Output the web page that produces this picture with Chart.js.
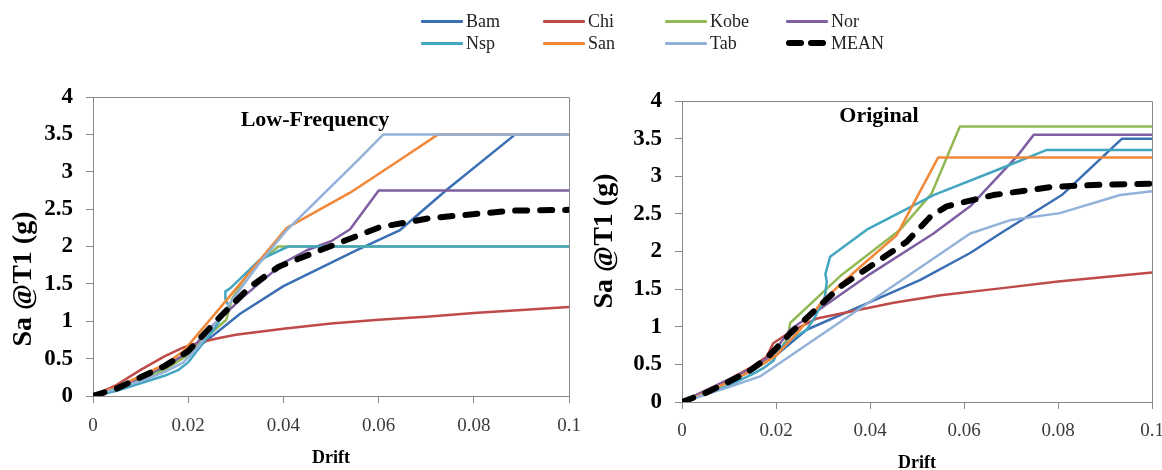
<!DOCTYPE html>
<html>
<head>
<meta charset="utf-8">
<script src="https://cdn.jsdelivr.net/npm/chart.js@4.4.1/dist/chart.umd.min.js"></script>
<style>
  html, body { margin: 0; padding: 0; background: #fff; }
  body { width: 1162px; height: 470px; position: relative; overflow: hidden; font-family: 'Liberation Serif', 'Times New Roman', serif; }
  #left { position: absolute; left: 0; top: 0; }
  #right { position: absolute; left: 585px; top: 0; }
  .lg { position: absolute; height: 20px; display: flex; align-items: center; font-size: 18px; color: #222; z-index: 5; }
  .lg .ln { width: 42px; height: 3px; margin-right: 3px; border-radius: 1px; }
  .lg .dsh { width: 18px; height: 6px; border-radius: 3px; background: #000; margin-right: 4px; }
</style>
</head>
<body>
<canvas id="left" width="593" height="470"></canvas>
<canvas id="right" width="590" height="474"></canvas>
<div id="legend"></div>
<script>
// ---------------- data ----------------
const SERIES_NAMES = ['Bam', 'Chi', 'Kobe', 'Nor', 'Nsp', 'San', 'Tab', 'MEAN'];
const X_TICK_LABELS = ['0', '0.02', '0.04', '0.06', '0.08', '0.1'];
const Y_TICK_LABELS = ['0', '0.5', '1', '1.5', '2', '2.5', '3', '3.5', '4'];

// Low-Frequency panel: [drift, Sa@T1]
const LF_BAM  = [[0,0],[0.005,0.12],[0.01,0.25],[0.015,0.38],[0.02,0.55],[0.026,0.85],[0.0309,1.1],[0.04,1.47],[0.0554,1.95],[0.0645,2.22],[0.0743,2.76],[0.0887,3.5],[0.1,3.5]];
const LF_CHI  = [[0,0],[0.005,0.15],[0.01,0.35],[0.015,0.53],[0.019,0.65],[0.022,0.71],[0.026,0.77],[0.03,0.82],[0.04,0.9],[0.05,0.97],[0.06,1.02],[0.07,1.06],[0.08,1.11],[0.09,1.15],[0.1,1.19]];
const LF_KOBE = [[0,0],[0.005,0.1],[0.01,0.22],[0.015,0.35],[0.02,0.55],[0.024,0.8],[0.028,1.02],[0.0292,1.3],[0.033,1.69],[0.0389,2.0],[0.1,2.0]];
const LF_NOR  = [[0,0],[0.005,0.11],[0.01,0.25],[0.015,0.4],[0.02,0.58],[0.0246,0.91],[0.0316,1.33],[0.04,1.78],[0.0449,1.95],[0.05,2.07],[0.054,2.23],[0.06,2.75],[0.1,2.75]];
const LF_NSP  = [[0,0],[0.005,0.07],[0.01,0.17],[0.015,0.27],[0.018,0.35],[0.02,0.45],[0.023,0.7],[0.0255,0.9],[0.0285,1.2],[0.0278,1.3],[0.0278,1.4],[0.0288,1.44],[0.035,1.82],[0.041,2.0],[0.1,2.0]];
const LF_SAN  = [[0,0],[0.005,0.12],[0.01,0.27],[0.015,0.42],[0.019,0.6],[0.028,1.28],[0.0407,2.25],[0.054,2.72],[0.0645,3.16],[0.0725,3.5],[0.1,3.5]];
const LF_TAB  = [[0,0],[0.005,0.1],[0.01,0.2],[0.015,0.32],[0.019,0.45],[0.022,0.65],[0.026,1.0],[0.03,1.35],[0.035,1.78],[0.0407,2.22],[0.0557,3.16],[0.061,3.5],[0.1,3.5]];
const LF_MEAN = [[0,0],[0.005,0.1],[0.01,0.25],[0.015,0.4],[0.02,0.6],[0.0267,1.06],[0.033,1.46],[0.039,1.73],[0.0477,1.95],[0.0603,2.26],[0.0708,2.38],[0.0813,2.44],[0.0882,2.48],[0.1,2.49]];

// Original panel: [drift, Sa@T1]
const OR_BAM  = [[0,0],[0.005,0.12],[0.01,0.27],[0.015,0.42],[0.02,0.62],[0.0265,0.96],[0.0379,1.27],[0.0506,1.62],[0.0613,1.98],[0.0677,2.24],[0.0808,2.75],[0.0936,3.5],[0.1,3.5]];
const OR_CHI  = [[0,0],[0.005,0.15],[0.01,0.3],[0.015,0.47],[0.018,0.6],[0.0194,0.78],[0.023,0.93],[0.0287,1.11],[0.0372,1.22],[0.045,1.32],[0.055,1.42],[0.0677,1.51],[0.08,1.6],[0.09,1.66],[0.1,1.72]];
const OR_KOBE = [[0,0],[0.005,0.12],[0.01,0.27],[0.015,0.42],[0.02,0.62],[0.0225,0.85],[0.023,1.05],[0.0336,1.67],[0.0464,2.29],[0.0531,2.77],[0.0591,3.66],[0.1,3.66]];
const OR_NOR  = [[0,0],[0.005,0.15],[0.01,0.3],[0.015,0.45],[0.019,0.62],[0.023,0.96],[0.0301,1.27],[0.04,1.7],[0.0535,2.24],[0.0613,2.6],[0.0712,3.26],[0.0748,3.55],[0.1,3.55]];
const OR_NSP  = [[0,0],[0.005,0.1],[0.01,0.22],[0.015,0.37],[0.0173,0.45],[0.0195,0.55],[0.0205,0.7],[0.0225,0.8],[0.0265,0.96],[0.0283,1.13],[0.0304,1.4],[0.0308,1.6],[0.0305,1.7],[0.0315,1.93],[0.0393,2.29],[0.0535,2.75],[0.0677,3.1],[0.0776,3.35],[0.1,3.35]];
const OR_SAN  = [[0,0],[0.005,0.12],[0.01,0.27],[0.015,0.42],[0.02,0.62],[0.025,0.95],[0.0301,1.36],[0.038,1.8],[0.0457,2.22],[0.0545,3.25],[0.1,3.25]];
const OR_TAB  = [[0,0],[0.005,0.1],[0.01,0.2],[0.0166,0.34],[0.0613,2.24],[0.07,2.42],[0.0804,2.51],[0.0932,2.75],[0.1,2.8]];
const OR_MEAN = [[0,0],[0.005,0.12],[0.01,0.27],[0.0145,0.42],[0.018,0.58],[0.023,0.91],[0.0336,1.53],[0.0478,2.13],[0.0528,2.46],[0.0563,2.6],[0.0662,2.75],[0.079,2.86],[0.09,2.89],[0.1,2.9]];

const COLORS = ['#3B6FB4', '#BE4B48', '#93B956', '#7E5FA1', '#43A6C0', '#F0883A', '#93B2DA', '#000000'];

// ---------------- helpers ----------------
const FONT = "'Liberation Serif', 'Times New Roman', serif";
const AXIS_GRAY = '#8a8a8a';

function buildDatasets(list) {
  return list.map((pts, i) => {
    const isMean = SERIES_NAMES[i] === 'MEAN';
    return {
      label: SERIES_NAMES[i],
      data: pts.map(p => ({ x: p[0], y: p[1] })),
      borderColor: COLORS[i],
      backgroundColor: COLORS[i],
      borderWidth: isMean ? 6 : 2.5,
      borderDash: isMean ? [12, 13] : [],
      borderCapStyle: isMean ? 'round' : 'butt',
      borderJoinStyle: 'round',
      pointRadius: 0,
      tension: 0,
      fill: false,
      order: isMean ? 0 : (list.length - i)
    };
  });
}

const boxPlugin = {
  id: 'boxPlugin',
  beforeDatasetsDraw(chart) {
    const a = chart.chartArea, c = chart.ctx;
    c.save();
    c.strokeStyle = AXIS_GRAY;
    c.lineWidth = 1;
    c.beginPath();
    c.moveTo(Math.round(a.left) + 0.5, Math.round(a.top) + 0.5);
    c.lineTo(Math.round(a.right) + 0.5, Math.round(a.top) + 0.5);
    c.lineTo(Math.round(a.right) + 0.5, Math.round(a.bottom) + 0.5);
    c.stroke();
    c.restore();
  }
};

const textPlugin = {
  id: 'textPlugin',
  afterDraw(chart, args, opts) {
    const c = chart.ctx;
    c.save();
    c.fillStyle = '#000';
    c.textAlign = 'center';
    c.textBaseline = 'middle';
    c.font = 'bold 22px ' + FONT;
    c.fillText(opts.title, opts.titleX, opts.titleY);
    c.translate(opts.yTitleX, opts.yTitleY);
    c.rotate(-Math.PI / 2);
    c.font = 'bold 28px ' + FONT;
    c.fillText(opts.yTitle, 0, 0);
    c.restore();
  }
};

function makeChart(id, list, cfg) {
  return new Chart(document.getElementById(id), {
    type: 'line',
    data: { datasets: buildDatasets(list) },
    plugins: [boxPlugin, textPlugin],
    options: {
      responsive: false,
      animation: false,
      devicePixelRatio: 1,
      layout: { padding: { top: cfg.top, right: 0, left: 0, bottom: 0 } },
      plugins: {
        legend: { display: false },
        tooltip: { enabled: false },
        textPlugin: { title: cfg.title, titleX: cfg.titleX, titleY: cfg.titleY, yTitle: 'Sa @T1 (g)', yTitleX: cfg.yTitleX, yTitleY: cfg.yTitleY }
      },
      scales: {
        x: {
          type: 'linear', min: 0, max: 0.1,
          afterFit: s => { s.height = cfg.xh; },
          ticks: { stepSize: 0.02, color: '#3a3a3a', padding: cfg.xpad, maxRotation: 0, autoSkip: false,
                   font: { family: FONT, size: 19 },
                   callback: (v, i) => X_TICK_LABELS[i] },
          grid: { drawOnChartArea: false, drawTicks: true, tickLength: 7, color: AXIS_GRAY },
          border: { display: true, color: AXIS_GRAY, width: 1 },
          title: { display: true, text: 'Drift', color: '#000', font: { family: FONT, size: 18, weight: 'bold' }, padding: { top: 0, bottom: cfg.xtpad } }
        },
        y: {
          type: 'linear', min: 0, max: 4,
          afterFit: s => { s.width = cfg.yw; },
          ticks: { stepSize: 0.5, color: '#000', padding: cfg.ypad, autoSkip: false,
                   font: { family: FONT, size: 23, weight: 'bold' },
                   callback: (v, i) => Y_TICK_LABELS[i] },
          grid: { drawOnChartArea: false, drawTicks: true, tickLength: 7, color: AXIS_GRAY },
          border: { display: true, color: AXIS_GRAY, width: 1 }
        }
      }
    }
  });
}

makeChart('left', [LF_BAM, LF_CHI, LF_KOBE, LF_NOR, LF_NSP, LF_SAN, LF_TAB, LF_MEAN], {
  top: 97, xh: 74, yw: 93, xpad: 12, ypad: 13, xtpad: 1,
  title: 'Low-Frequency', titleX: 315, titleY: 120, yTitleX: 24, yTitleY: 279
});
makeChart('right', [OR_BAM, OR_CHI, OR_KOBE, OR_NOR, OR_NSP, OR_SAN, OR_TAB, OR_MEAN], {
  top: 101, xh: 72, yw: 97, xpad: 11, ypad: 13, xtpad: 0,
  title: 'Original', titleX: 294, titleY: 116, yTitleX: 20, yTitleY: 241
});

// ---------------- HTML legend ----------------
const LEGEND_X = [421, 543, 665, 786];
const LEGEND_Y = [11, 33];
const lg = document.getElementById('legend');
SERIES_NAMES.forEach((name, i) => {
  const d = document.createElement('div');
  d.className = 'lg';
  d.style.left = LEGEND_X[i % 4] + 'px';
  d.style.top = LEGEND_Y[Math.floor(i / 4)] + 'px';
  if (name === 'MEAN') {
    d.innerHTML = '<span class="dsh"></span><span class="dsh" style="margin-right:5px"></span><span>' + name + '</span>';
  } else {
    d.innerHTML = '<span class="ln" style="background:' + COLORS[i] + '"></span><span>' + name + '</span>';
  }
  lg.appendChild(d);
});
</script>
</body>
</html>
